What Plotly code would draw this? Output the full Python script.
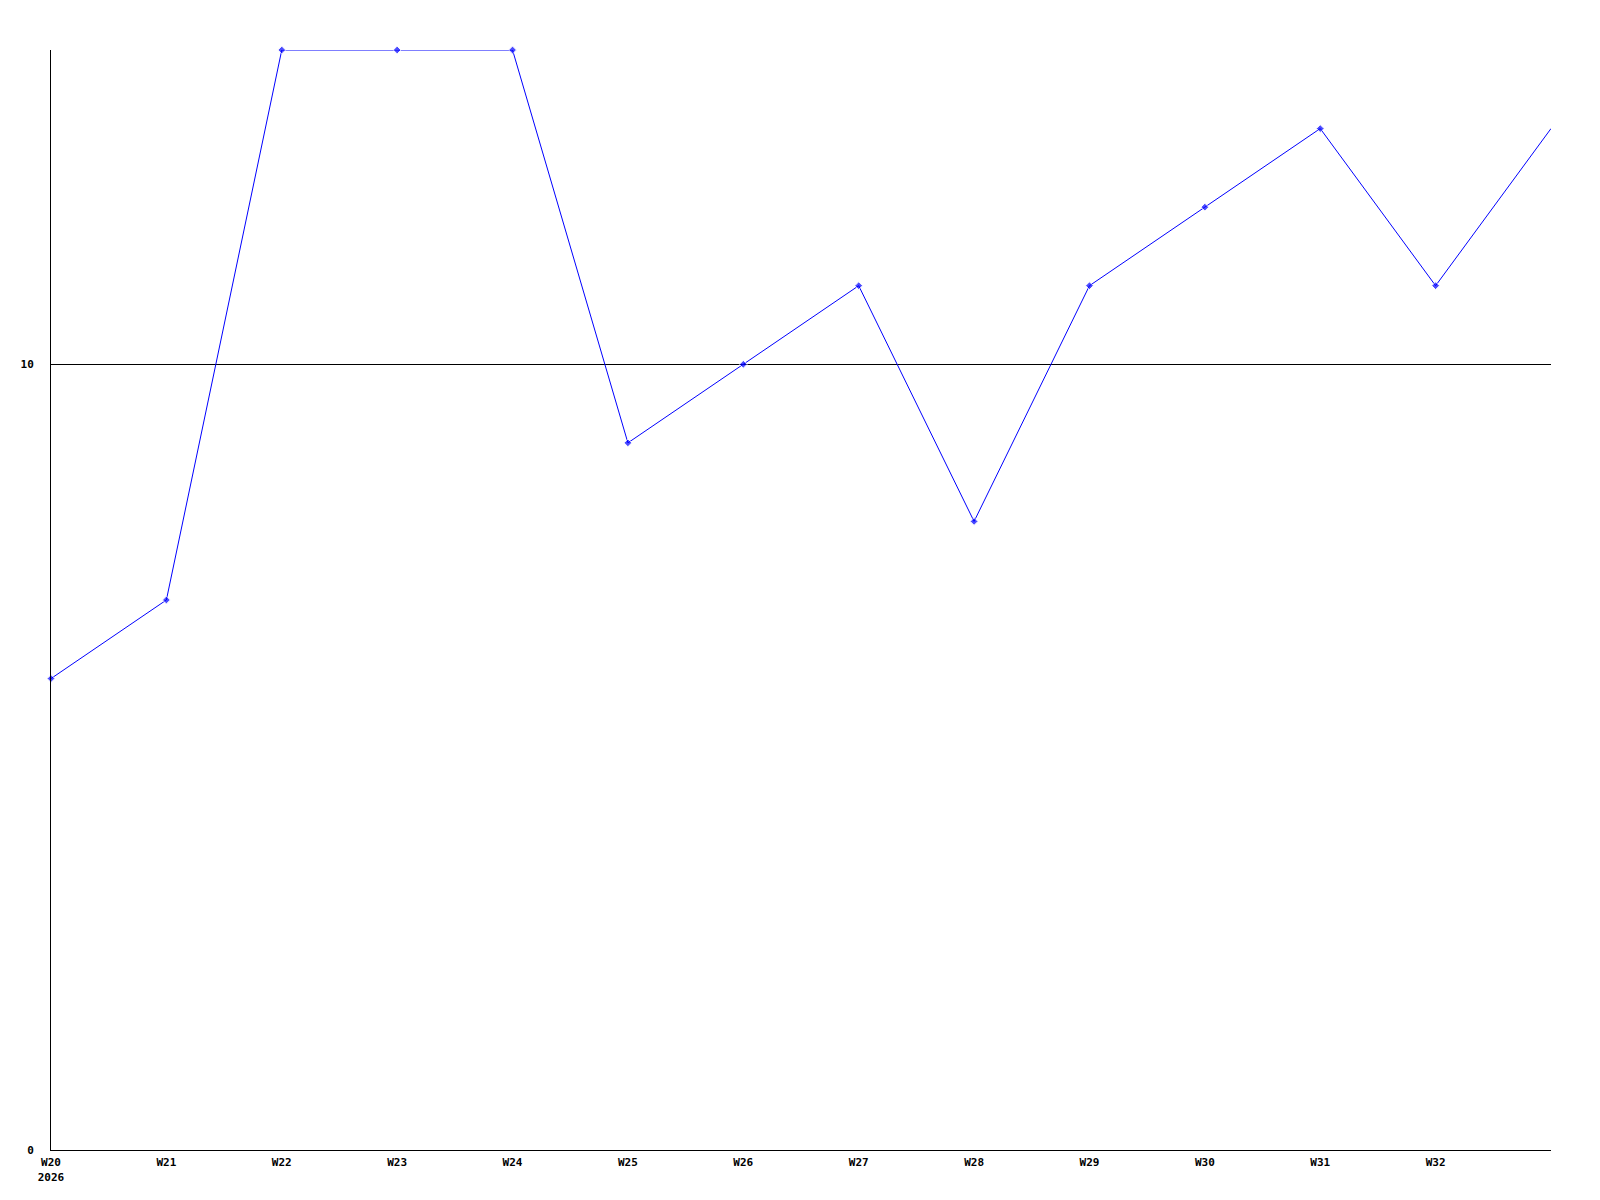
import plotly.graph_objects as go

weeks = ["W20", "W21", "W22", "W23", "W24", "W25", "W26", "W27", "W28", "W29", "W30", "W31", "W32", "W33"]
values = [6, 7, 14, 14, 14, 9, 10, 11, 8, 11, 12, 13, 11, 13]
tick_weeks = weeks[:-1]
tick_text = ["W20<br>2026"] + weeks[1:-1]
y_ticks = [0, 10]

marker_sizes = [6] * (len(weeks) - 1) + [0]

fig = go.Figure()
fig.add_trace(go.Scatter(
    x=weeks, y=values, mode="lines+markers",
    line=dict(color="#0000ff", width=1),
    marker=dict(color="#0000ff", size=marker_sizes, symbol="diamond"),
    cliponaxis=False,
    hoverinfo="x+y", showlegend=False,
))

tfont = dict(family="DejaVu Sans Mono", size=11, color="black", weight="bold")
fig.update_layout(
    width=1600, height=1200,
    margin=dict(l=43, r=57, t=42, b=58, autoexpand=False),
    paper_bgcolor="white", plot_bgcolor="white",
    font=dict(family="DejaVu Sans Mono", size=11, color="black"),
    xaxis=dict(
        type="category", range=[0, 13], tickvals=tick_weeks, ticktext=tick_text,
        showgrid=False, showline=True, linecolor="black", linewidth=1,
        ticks="", tickfont=tfont, automargin=False,
        zeroline=False, ticklabelstandoff=2,
    ),
    yaxis=dict(
        range=[0, 14], tickvals=y_ticks, ticktext=[str(v) for v in y_ticks],
        showgrid=True, gridcolor="black", gridwidth=1,
        showline=True, linecolor="black", linewidth=1, zeroline=False,
        ticks="", tickfont=tfont, automargin=False,
        ticklabelstandoff=14,
    ),
)

fig.write_html("out.html")
